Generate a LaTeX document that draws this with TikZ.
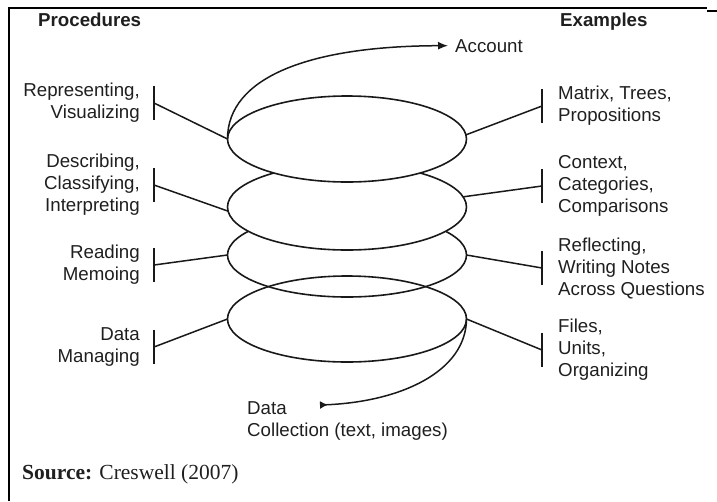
\documentclass[tikz,border=0pt]{standalone}
\usepackage{fontspec}
\setmainfont{Liberation Sans}
\newfontfamily\srcfont{Liberation Serif}
\usepackage{tikz}
\usepackage{xcolor}
\usetikzlibrary{positioning,arrows.meta,shapes.geometric,calc}

\begin{document}
\begin{tikzpicture}[
          x=1pt, y=-1pt,
          lbl/.style={font=\fontsize{18.7}{22}\selectfont, text=black!88, inner sep=0pt},
          head/.style={lbl, font=\fontsize{18.7}{22}\selectfont\bfseries},
          ring/.style={ellipse, draw=black!90, line width=1.6pt, inner sep=0pt, outer sep=0pt,
                       minimum width=239pt, minimum height=86pt},
          tie/.style={line width=1.5pt, black!90},
          barmark/.style={line width=2.6pt, black!90}
      ]
        \useasboundingbox (0,0) rectangle (717,501);
        % frame
        \draw[line width=1.2pt] (9,501) -- (9,8) -- (707,8);
        \draw[line width=1.2pt] (707,11) -- (717,11);
        \node[head, anchor=base west] (proc) at (38,26) {Procedures};
        \node[head, anchor=base west] (expl) at (560,26) {Examples};
        % the loops, lower ones first so the upper ones cover them
        \node[ring] (e4) at (347,319) {};
        \node[ring, minimum height=84pt] (e3) at (347,255) {};
        \node[ring, fill=white] (e2) at (347,207) {};
        \node[ring, fill=white] (e1) at (347,139) {};
        % in and out of the spiral
        \node[lbl, anchor=base west] (acc) at (455,52) {Account};
        \node[lbl, anchor=north west, align=left] (dcol) at (247,401) {Data\\Collection (text, images)};
        \coordinate (tail) at (320,405);
        \draw[tie, -{Latex[length=10pt,width=8pt]}, shorten >=7pt]
          (e1.west) .. controls +(0,-62) and (310,46) .. (acc.west);
        \draw[tie, {Latex[reversed,length=8pt,width=8pt]}-]
          (tail) .. controls (400,402) and (466,372) .. (e4.east);
        % procedures
        \coordinate (b1) at (154,103);
        \coordinate (b2) at (154,185);
        \coordinate (b3) at (154,265);
        \coordinate (b4) at (154,347);
        \node[lbl, left=14pt of b1, align=right] (rep) {Representing,\\Visualizing};
        \node[lbl, left=14pt of b2, align=right] (desc) {Describing,\\Classifying,\\Interpreting};
        \node[lbl, left=14pt of b3, align=right] (read) {Reading\\Memoing};
        \node[lbl, left=14pt of b4, align=right] (dman) {Data\\Managing};
        \draw[tie] (b1) -- (e1.west);
        \draw[tie] (b2) -- (e2.182);
        \draw[tie] (b3) -- (e3.west);
        \draw[tie] (b4) -- (e4.west);
        % examples
        \coordinate (c1) at (542,106);
        \coordinate (c2) at (542,186);
        \coordinate (c3) at (542,268);
        \coordinate (c4) at (542,350);
        \node[lbl, right=16pt of c1, align=left] (mat) {Matrix, Trees,\\Propositions};
        \node[lbl, right=16pt of c2, align=left] (ctx) {Context,\\Categories,\\Comparisons};
        \node[lbl, right=16pt of c3, align=left] (refl) {Reflecting,\\Writing Notes\\Across Questions};
        \node[lbl, right=16pt of c4, align=left] (files) {Files,\\Units,\\Organizing};
        \draw[tie] (c1) -- (e1.2);
        \draw[tie] (c2) -- (e2.5);
        \draw[tie] (c3) -- (e3.east);
        \draw[tie] (c4) -- (e4.east);
        % upright bars at the label ends
        \foreach \b in {b1,b2,b3,b4,c1,c2,c3,c4}
          \draw[barmark] ($(\b)+(0,-17)$) -- ($(\b)+(0,17)$);
        \node[lbl, anchor=base west, font=\fontsize{21.5}{24}\selectfont\srcfont] (src) at (22,479)
          {\textbf{Source:} Creswell (2007)};
      \end{tikzpicture}
\end{document}
